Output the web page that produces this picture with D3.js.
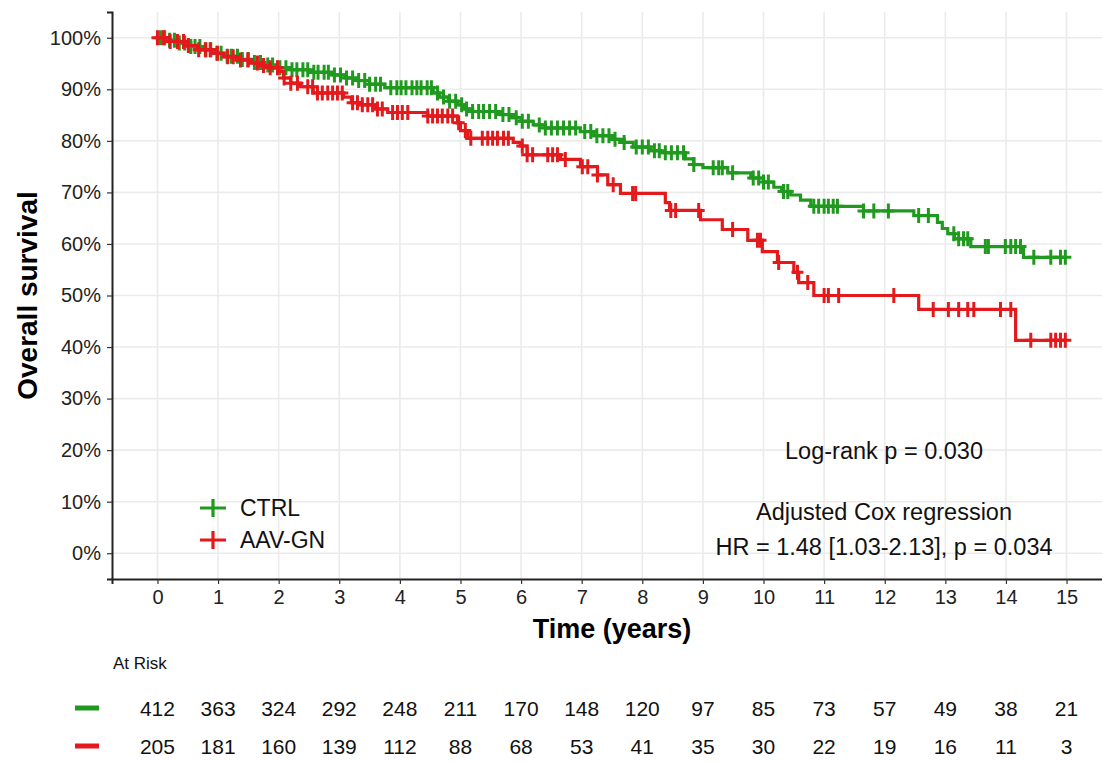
<!DOCTYPE html>
<html>
<head>
<meta charset="utf-8">
<script src="https://cdn.jsdelivr.net/npm/d3@7"></script>
<style>
  body { margin: 0; background: #fff; }
  svg { display: block; font-family: "Liberation Sans", Arial, sans-serif; }
</style>
</head>
<body>
<svg id="chart" width="1102" height="762"></svg>
<script>
// --- DATA ---
const groups = ["CTRL", "AAV-GN"];
const groupColors = ["#1f9a1f", "#e4191c"];

// step points [time, survival] for each group
const ctrlSteps = [
  [0,1.000],[0.15,0.995],[0.35,0.99],[0.55,0.983],[0.75,0.977],[0.95,0.97],[1.15,0.964],
  [1.35,0.958],[1.55,0.952],[1.75,0.947],[1.95,0.942],[2.2,0.938],[2.5,0.933],[2.9,0.928],
  [3.1,0.922],[3.3,0.917],[3.5,0.91],[3.75,0.903],[4.55,0.893],[4.65,0.885],[4.8,0.877],
  [4.95,0.87],[5.05,0.862],[5.2,0.857],[5.66,0.851],[5.83,0.845],[6.0,0.838],[6.2,0.831],
  [6.4,0.825],[6.98,0.818],[7.2,0.81],[7.5,0.803],[7.7,0.797],[7.85,0.788],[8.14,0.781],
  [8.3,0.777],[8.71,0.765],[8.85,0.754],[9.0,0.748],[9.41,0.738],[9.79,0.728],[10.0,0.72],
  [10.17,0.71],[10.3,0.702],[10.45,0.695],[10.61,0.685],[10.78,0.673],[11.65,0.664],
  [12.48,0.655],[12.87,0.642],[12.95,0.63],[13.04,0.62],[13.15,0.61],[13.42,0.595],[14.29,0.574]
];
const aavSteps = [
  [0,1.0],[0.2,0.993],[0.45,0.985],[0.66,0.977],[0.9,0.97],[1.09,0.963],[1.3,0.957],
  [1.53,0.951],[1.7,0.946],[1.86,0.942],[2.0,0.935],[2.08,0.922],[2.2,0.912],[2.36,0.905],
  [2.57,0.893],[3.07,0.885],[3.2,0.874],[3.35,0.87],[3.6,0.862],[3.8,0.855],[4.46,0.848],
  [4.95,0.835],[5.0,0.82],[5.12,0.805],[5.87,0.797],[5.99,0.79],[6.1,0.773],[6.65,0.764],
  [6.98,0.75],[7.26,0.734],[7.43,0.715],[7.64,0.698],[8.38,0.68],[8.45,0.665],[8.96,0.647],
  [9.32,0.628],[9.74,0.607],[9.98,0.585],[10.23,0.564],[10.5,0.545],[10.58,0.525],
  [10.83,0.50],[12.56,0.473],[14.16,0.413]
];
const endTime = 15.0;

// censoring times
const ctrlCensor = [
  0.05,0.12,0.2,0.28,0.36,0.45,0.55,0.62,0.7,0.8,0.88,0.98,1.05,1.15,1.22,1.32,1.4,1.5,1.6,
  1.7,1.82,1.9,2.02,2.12,2.22,2.3,2.4,2.48,2.58,2.65,2.75,2.82,2.92,3.02,3.12,3.22,3.32,3.42,
  3.5,3.6,3.68,3.85,3.95,4.02,4.1,4.2,4.28,4.35,4.45,4.52,4.62,4.72,4.82,4.92,5.02,5.1,5.2,
  5.3,5.38,5.48,5.58,5.7,5.8,5.92,6.02,6.12,6.3,6.4,6.5,6.6,6.7,6.8,6.9,7.05,7.15,7.25,7.35,
  7.45,7.55,7.7,7.9,8.0,8.1,8.2,8.28,8.38,8.48,8.58,8.68,8.85,9.17,9.26,9.32,9.49,9.83,9.92,
  10.0,10.08,10.33,10.4,10.83,10.91,11.0,11.07,11.15,11.22,11.65,11.82,12.06,12.56,12.72,
  13.14,13.22,13.3,13.37,13.66,13.71,13.99,14.08,14.16,14.24,14.46,14.74,14.9,14.98
];
const aavCensor = [
  0.0,0.1,0.21,0.33,0.43,0.51,0.68,0.79,0.87,0.99,1.16,1.25,1.37,1.49,1.65,1.75,1.86,1.98,
  2.09,2.2,2.31,2.48,2.56,2.64,2.72,2.81,2.89,2.97,3.05,3.22,3.3,3.38,3.47,3.55,3.63,3.71,
  3.88,3.96,4.04,4.13,4.46,4.54,4.62,4.7,4.79,4.87,4.97,5.08,5.17,5.36,5.45,5.53,5.61,5.71,
  5.79,6.02,6.1,6.19,6.44,6.52,6.6,6.73,7.01,7.1,7.26,7.52,7.84,7.89,8.47,8.55,8.93,9.49,
  9.9,9.95,10.25,10.56,10.73,11.0,11.07,11.24,12.15,12.8,13.05,13.22,13.37,13.47,13.91,
  14.08,14.41,14.74,14.82,14.9,14.98
];

const xTicks = d3.range(0, 16);
const yTicks = [0, 0.1, 0.2, 0.3, 0.4, 0.5, 0.6, 0.7, 0.8, 0.9, 1.0];

const riskTimes = d3.range(0, 16);
const ctrlRisk = [412,363,324,292,248,211,170,148,120,97,85,73,57,49,38,21];
const aavRisk  = [205,181,160,139,112,88,68,53,41,35,30,22,19,16,11,3];

const logRankText = "Log-rank p = 0.030";
const coxLines = ["Adjusted Cox regression", "HR = 1.48 [1.03-2.13], p = 0.034"];

// --- LAYOUT ---
const svg = d3.select("#chart");
const pL = 112, pT = 12, pB = 579, pR = 1112;

const x = d3.scaleLinear().domain([-0.75, 15.75]).range([pL, pR]);
const y = d3.scaleLinear().domain([-0.05, 1.05]).range([pB, pT]);

// grid
const grid = svg.append("g");
xTicks.forEach(t => {
  grid.append("line")
    .attr("x1", x(t)).attr("x2", x(t)).attr("y1", pT).attr("y2", pB)
    .attr("stroke", "#ebebeb").attr("stroke-width", 1.6);
});
yTicks.forEach(v => {
  grid.append("line")
    .attr("x1", pL).attr("x2", pR).attr("y1", y(v)).attr("y2", y(v))
    .attr("stroke", "#ebebeb").attr("stroke-width", 1.6);
});

// axes
const xAxis = svg.append("g")
  .attr("transform", `translate(0,${pB})`)
  .call(d3.axisBottom(x).tickValues(xTicks).tickSize(5).tickPadding(6).tickFormat(d3.format("d")));
const yAxis = svg.append("g")
  .attr("transform", `translate(${pL},0)`)
  .call(d3.axisLeft(y).tickValues(yTicks).tickSize(5).tickPadding(6).tickFormat(d3.format(".0%")));

[xAxis, yAxis].forEach(a => {
  a.select(".domain").attr("stroke", "#222").attr("stroke-width", 2);
  a.selectAll(".tick line").attr("stroke", "#333").attr("stroke-width", 1.2);
  a.selectAll(".tick text")
    .attr("fill", "#222").style("font-size", "20px")
    .style("font-family", "'Liberation Sans', Arial, sans-serif");
});

svg.append("text")
  .attr("x", x(7.5)).attr("y", 638)
  .attr("text-anchor", "middle")
  .style("font-size", "27px").style("font-weight", "bold")
  .text("Time (years)");

svg.append("text")
  .attr("transform", `translate(37,${y(0.5)}) rotate(-90)`)
  .attr("text-anchor", "middle")
  .style("font-size", "28px").style("font-weight", "bold")
  .text("Overall survival");

// --- CURVES ---
function stepPoints(steps) {
  const pts = [];
  steps.forEach((s, i) => {
    if (i > 0) pts.push([s[0], steps[i - 1][1]]);
    pts.push(s);
  });
  pts.push([endTime, steps[steps.length - 1][1]]);
  return pts;
}
function survAt(steps, t) {
  let v = steps[0][1];
  steps.forEach(s => { if (s[0] <= t) v = s[1]; });
  return v;
}

const line = d3.line().x(d => x(d[0])).y(d => y(d[1]));
const allSteps = [ctrlSteps, aavSteps];
const allCensor = [ctrlCensor, aavCensor];

allSteps.forEach((steps, gi) => {
  const g = svg.append("g");
  g.append("path")
    .attr("d", line(stepPoints(steps)))
    .attr("fill", "none")
    .attr("stroke", groupColors[gi])
    .attr("stroke-width", 3.2);
  g.selectAll("path.cens")
    .data(allCensor[gi])
    .join("path")
    .attr("class", "cens")
    .attr("d", t => {
      const cx = x(t), cy = y(survAt(steps, t));
      return `M${cx - 6},${cy}H${cx + 6}M${cx},${cy - 7.5}V${cy + 7.5}`;
    })
    .attr("stroke", groupColors[gi])
    .attr("stroke-width", 3)
    .attr("fill", "none");
});

// --- LEGEND ---
const leg = svg.append("g");
groups.forEach((name, i) => {
  const ly = 508 + i * 32;
  leg.append("path")
    .attr("d", `M200,${ly}H226M213,${ly - 9}V${ly + 9}`)
    .attr("stroke", groupColors[i]).attr("stroke-width", 3.2);
  leg.append("text")
    .attr("x", 240).attr("y", ly + 8)
    .style("font-size", "23px").attr("fill", "#111")
    .text(name);
});

// --- ANNOTATIONS ---
svg.append("text")
  .attr("x", 884).attr("y", 459)
  .attr("text-anchor", "middle")
  .style("font-size", "23.5px").attr("fill", "#111")
  .text(logRankText);
coxLines.forEach((s, i) => {
  svg.append("text")
    .attr("x", 884).attr("y", 520 + i * 35)
    .attr("text-anchor", "middle")
    .style("font-size", "23.5px").attr("fill", "#111")
    .text(s);
});

// --- RISK TABLE ---
svg.append("text")
  .attr("x", 113).attr("y", 669)
  .style("font-size", "17px").attr("fill", "#111")
  .text("At Risk");

[ctrlRisk, aavRisk].forEach((row, gi) => {
  const ry = 708 + gi * 38;
  svg.append("line")
    .attr("x1", 75).attr("x2", 99).attr("y1", ry).attr("y2", ry)
    .attr("stroke", groupColors[gi]).attr("stroke-width", 5);
  svg.append("g").selectAll("text")
    .data(row)
    .join("text")
    .attr("x", (d, i) => x(riskTimes[i]))
    .attr("y", ry + 8)
    .attr("text-anchor", "middle")
    .style("font-size", "21px").attr("fill", "#111")
    .text(d => d);
});
</script>
</body>
</html>
